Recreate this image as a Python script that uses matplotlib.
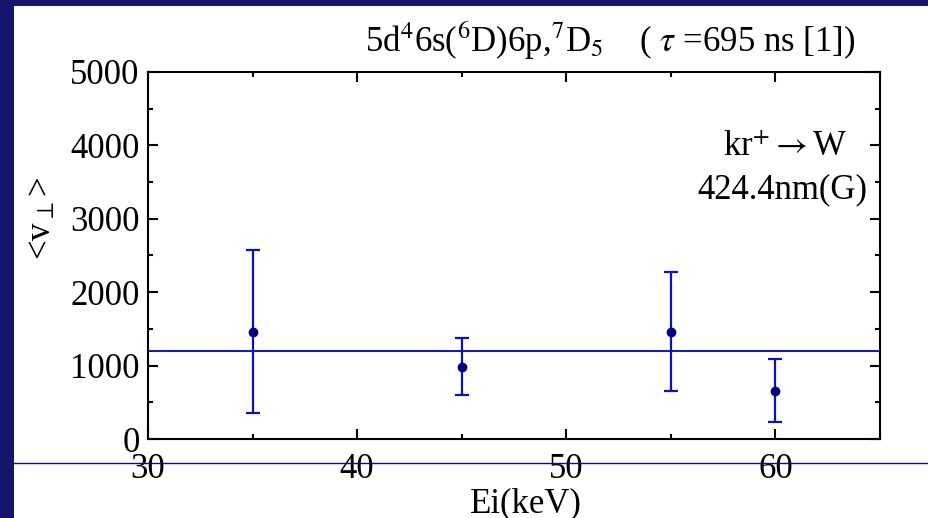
import matplotlib
matplotlib.use("Agg")
import matplotlib.pyplot as plt
from matplotlib.patches import Rectangle
from matplotlib.lines import Line2D
from matplotlib.ticker import MultipleLocator

plt.rcParams['font.family'] = ['Liberation Serif', 'DejaVu Serif']
plt.rcParams['mathtext.fontset'] = 'stix'

# data
energies = [35, 45, 55, 60]
v_perp = [1460, 985, 1460, 655]
v_err = [1110, 385, 810, 430]
fit_level = 1200
x_ticks = [30, 40, 50, 60]
y_ticks = [0, 1000, 2000, 3000, 4000, 5000]

W, H = 929, 518
fig = plt.figure(figsize=(W / 100, H / 100), dpi=100, facecolor='#15156b')
fig.add_artist(Rectangle((14 / W, 0), 1 - 14 / W, 1 - 6 / H, transform=fig.transFigure,
                         facecolor='white', edgecolor='none', zorder=0))
fig.add_artist(Line2D([14 / W, 1], [1 - 463 / H, 1 - 463 / H], transform=fig.transFigure,
                      color='#10106a', lw=1.0, zorder=1))

ax = fig.add_axes([148 / W, 1 - 439 / H, (880 - 148) / W, (439 - 72) / H])
ax.set_facecolor('white')
ax.set_xlim(30, 65)
ax.set_ylim(0, 5000)
ax.set_xticks(x_ticks)
ax.set_yticks(y_ticks)
ax.xaxis.set_minor_locator(MultipleLocator(5))
ax.yaxis.set_minor_locator(MultipleLocator(500))
ax.tick_params(which='both', direction='in', top=True, right=True, width=1.5,
               labelsize=25, colors='black')
ax.tick_params(which='major', length=7.5)
ax.tick_params(which='minor', length=3.8)
ax.tick_params(axis='x', pad=10)
ax.tick_params(axis='y', pad=6)
for s in ax.spines.values():
    s.set_linewidth(1.5)
    s.set_zorder(4)

ax.axhline(fit_level, color='#1c1ca8', lw=1.5, zorder=2)
ax.errorbar(energies, v_perp, yerr=v_err, fmt='o', color='#000080', ecolor='#1010b8',
            elinewidth=1.6, capsize=5, capthick=1.6, markersize=6, zorder=3)

fig.text(855 / W, 1 - 52 / H,
         r"5d$^{4}$6s($^{6}$D)6p,$^{7}$D$_{5}$    ( $\tau$ =695 ns [1])",
         ha='right', va='baseline', fontsize=25)
fig.text(848 / W, 1 - 156 / H, r"kr$^{+}\rightarrow$W", ha='right', va='baseline', fontsize=25)
fig.text(867 / W, 1 - 198 / H, "424.4nm(G)", ha='right', va='baseline', fontsize=25)
fig.text(42 / W, 1 - 219 / H, r"<v$_{\perp}$>", rotation=90, ha='center', va='center',
         fontsize=25)
fig.text(526 / W, 1 - 512 / H, "Ei(keV)", ha='center', va='baseline', fontsize=25)

fig.savefig('out.png', dpi=100, facecolor=fig.get_facecolor())
